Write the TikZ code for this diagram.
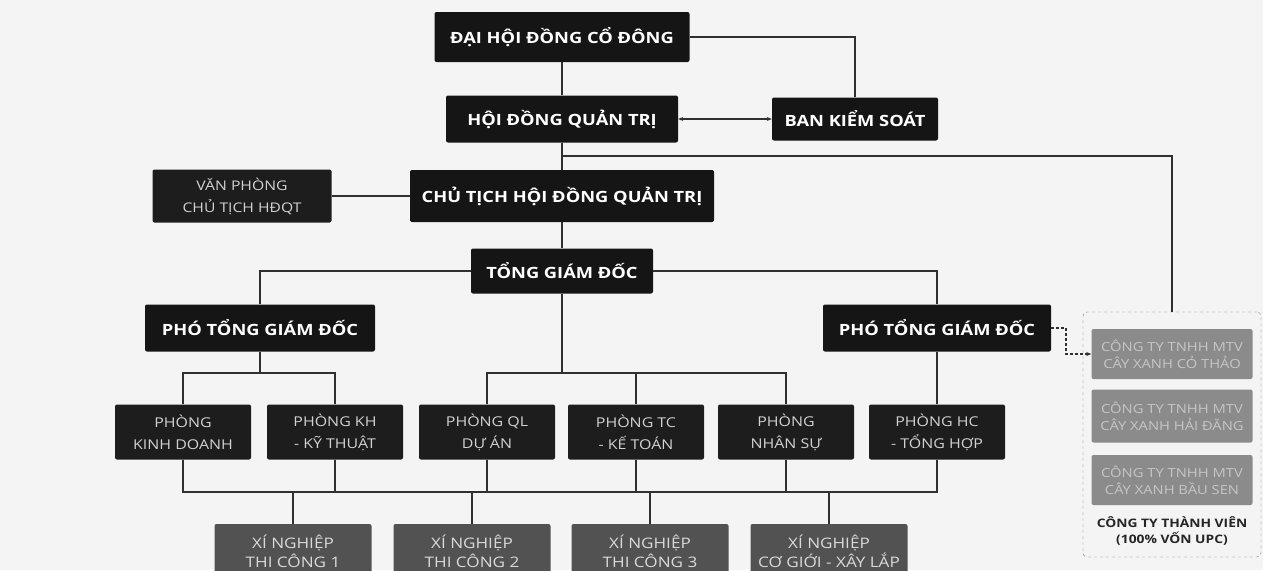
\documentclass[tikz,border=0pt]{standalone}
\usepackage{fontspec}
\setmainfont{Open Sans}[FakeStretch=1.18]
\usepackage{tikz}
\usetikzlibrary{positioning,arrows.meta,calc}
\definecolor{capo}{HTML}{151515}
\definecolor{ufficio}{HTML}{1d1d1d}
\definecolor{ufficiotxt}{HTML}{d2d2d2}
\definecolor{cantiere}{HTML}{525252}
\definecolor{cantieretxt}{HTML}{dadada}
\definecolor{societa}{HTML}{8b8b8b}
\definecolor{societatxt}{HTML}{c6c6c6}
\definecolor{linea}{HTML}{303030}
\definecolor{sfondo}{HTML}{f4f4f4}

\begin{document}
\begin{tikzpicture}[x=1pt, y=-1pt,
    capobox/.style={fill=capo, text=white, rounded corners=2pt, inner sep=0pt, align=center,
        font=\fontsize{15.5}{18}\selectfont\bfseries},
    ufficiobox/.style={fill=ufficio, text=ufficiotxt, rounded corners=2pt, inner sep=0pt, align=center,
        minimum width=136, minimum height=55, font=\fontsize{13.5}{22}\selectfont},
    cantierebox/.style={fill=cantiere, text=cantieretxt, rounded corners=2pt, inner sep=0pt, align=center,
        minimum width=157, minimum height=54, font=\fontsize{14.5}{19}\selectfont},
    societabox/.style={fill=societa, text=societatxt, rounded corners=2pt, inner sep=0pt, align=center,
        minimum width=161, minimum height=50, font=\fontsize{12.5}{17}\selectfont},
    filo/.style={draw=linea, line width=1.1pt}]

    \fill[sfondo] (0, 0) rectangle (1263, 570);
    \useasboundingbox (0, 0) rectangle (1263, 570);

    \node[capobox, minimum width=255, minimum height=50] (dhcd) at (562, 37) {ĐẠI HỘI ĐỒNG CỔ ĐÔNG};
    \node[capobox, minimum width=232, minimum height=47] (hdqt) at (562, 119) {HỘI ĐỒNG QUẢN TRỊ};
    \node[capobox, minimum width=166, minimum height=43] (bks) at (855, 119) {BAN KIỂM SOÁT};
    \node[ufficiobox, minimum width=179, minimum height=53, font=\fontsize{13.3}{22}\selectfont] (vp) at (242, 196) {VĂN PHÒNG\\CHỦ TỊCH HĐQT};
    \node[capobox, minimum width=304, minimum height=52] (ct) at (562, 196) {CHỦ TỊCH HỘI ĐỒNG QUẢN TRỊ};
    \node[capobox, minimum width=182, minimum height=45] (tgd) at (562, 271) {TỔNG GIÁM ĐỐC};
    \node[capobox, minimum width=230, minimum height=47] (ptgdA) at (260, 328) {PHÓ TỔNG GIÁM ĐỐC};
    \node[capobox, minimum width=228, minimum height=47] (ptgdB) at (937, 328) {PHÓ TỔNG GIÁM ĐỐC};

    \node[ufficiobox] (kd) at (183, 432) {PHÒNG\\KINH DOANH};
    \node[ufficiobox] (kh) at (335, 432) {PHÒNG KH\\- KỸ THUẬT};
    \node[ufficiobox] (ql) at (487, 432) {PHÒNG QL\\DỰ ÁN};
    \node[ufficiobox] (tc) at (636, 432) {PHÒNG TC\\- KẾ TOÁN};
    \node[ufficiobox] (ns) at (786, 432) {PHÒNG\\NHÂN SỰ};
    \node[ufficiobox] (hc) at (937, 432) {PHÒNG HC\\- TỔNG HỢP};

    \node[cantierebox] (xn1) at (293, 551) {XÍ NGHIỆP\\THI CÔNG 1};
    \node[cantierebox] (xn2) at (472, 551) {XÍ NGHIỆP\\THI CÔNG 2};
    \node[cantierebox] (xn3) at (650, 551) {XÍ NGHIỆP\\THI CÔNG 3};
    \node[cantierebox] (xn4) at (829, 551) {XÍ NGHIỆP\\CƠ GIỚI - XÂY LẮP};

    \node[draw=black!55, dashed, rounded corners=4pt, minimum width=178, minimum height=245] (gruppo) at (1172, 434.5) {};
    \node[societabox] (co1) at (1172, 354) {CÔNG TY TNHH MTV\\CÂY XANH CỎ THẢO};
    \node[societabox, minimum height=53] (co2) at (1172, 416) {CÔNG TY TNHH MTV\\CÂY XANH HẢI ĐĂNG};
    \node[societabox] (co3) at (1172, 480) {CÔNG TY TNHH MTV\\CÂY XANH BẦU SEN};
    \node[align=center, text=black!85, font=\fontsize{11.7}{16}\selectfont\bfseries] (tv) at (1172, 531) {CÔNG TY THÀNH VIÊN\\(100\% VỐN UPC)};

    \coordinate (snodo) at (562, 156);
    \coordinate (busA) at (260, 373);
    \coordinate (busB) at (562, 373);
    \coordinate (busC) at (562, 492);
    \coordinate (piega) at (1066, 354);

    % Vertice
    \draw[filo] (dhcd.south) -- (hdqt.north);
    \draw[filo] (dhcd.east) -| (bks.north);
    \draw[filo, {Stealth[length=5pt, width=4pt]}-{Stealth[length=5pt, width=4pt]}] (hdqt.east) -- (bks.west);
    \draw[filo] (hdqt.south) -- (ct.north);
    \draw[filo] (snodo) -| (gruppo.north);
    \draw[filo] (vp.east) -- (ct.west);
    \draw[filo] (ct.south) -- (tgd.north);
    \draw[filo] (ptgdA.north) |- (tgd.west);
    \draw[filo] (tgd.east) -| (ptgdB.north);
    \draw[filo, densely dashed, -{Stealth[length=5pt, width=4pt]}] (ptgdB.east) -| (piega) -- (co1.west);

    % Linee verso gli uffici
    \draw[filo] (ptgdA.south) -- (busA);
    \draw[filo] (kd.north) |- (busA) -| (kh.north);
    \draw[filo] (tgd.south) -- (busB);
    \draw[filo] (ql.north) |- (busB) -| (ns.north);
    \draw[filo] (tc.north) |- (busB);
    \draw[filo] (ptgdB.south) -- (hc.north);

    % Linee verso gli xi nghiep
    \draw[filo] (kd.south) |- (busC) -| (hc.south);
    \foreach \u in {kh, ql, tc, ns}
        \draw[filo] (\u.south) |- (busC);
    \foreach \x in {xn1, xn2, xn3, xn4}
        \draw[filo] (\x.north) |- (busC);
\end{tikzpicture}
\end{document}
